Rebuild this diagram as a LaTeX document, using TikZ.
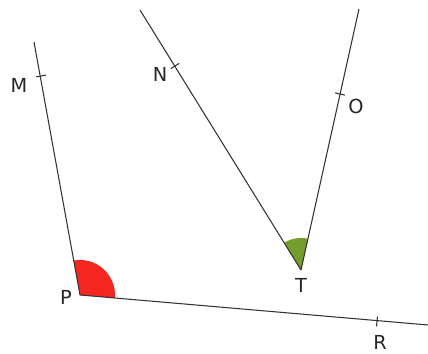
\documentclass[tikz,border=0pt]{standalone}
\usepackage{fontspec}
\setmainfont{DejaVu Sans}
\usetikzlibrary{calc}
\definecolor{anglered}{RGB}{245,38,32}
\definecolor{anglegreen}{RGB}{116,158,44}

\begin{document}
\begin{tikzpicture}[
    ray/.style={draw=black!80, line width=0.6pt},
    tick/.style={draw=black!80, line width=0.6pt},
    pointlabel/.style={font=\fontsize{11}{13}\selectfont, text=black!85, inner sep=0pt},
    redangle/.style={fill=anglered},
    greenangle/.style={fill=anglegreen}
]
\useasboundingbox (0,0) rectangle (8.56,7.08);

% Points
\coordinate (P) at (1.60,1.18);
\coordinate (T) at (6.02,1.68);
\coordinate (Mend) at (0.68,6.24);
\coordinate (Nend) at (2.80,6.88);
\coordinate (Oend) at (7.18,6.90);
\coordinate (Rend) at (8.56,0.58);
\coordinate (M) at (0.82,5.56);
\coordinate (N) at (3.50,5.76);
\coordinate (O) at (6.80,5.20);
\coordinate (R) at (7.54,0.65);

% Angles
\fill[redangle] (P) -- ++(-5:0.7) arc[start angle=-5, end angle=100.3, radius=0.7] -- cycle;
\fill[greenangle] (T) -- ++(77.5:0.64) arc[start angle=77.5, end angle=121.8, radius=0.64] -- cycle;

% Rays
\draw[ray] (P) -- (Mend);
\draw[ray] (P) -- (Rend);
\draw[ray] (T) -- (Nend);
\draw[ray] (T) -- (Oend);

% Ticks
\draw[tick] ($(M)!0.1cm!90:(P)$) -- ($(M)!0.1cm!-90:(P)$);
\draw[tick] ($(N)!0.1cm!90:(T)$) -- ($(N)!0.1cm!-90:(T)$);
\draw[tick] ($(O)!0.1cm!90:(T)$) -- ($(O)!0.1cm!-90:(T)$);
\draw[tick] ($(R)!0.1cm!90:(P)$) -- ($(R)!0.1cm!-90:(P)$);

% Labels
\node[pointlabel] (labelM) at (0.38,5.38) {M};
\node[pointlabel] (labelN) at (3.20,5.60) {N};
\node[pointlabel] (labelO) at (7.12,4.96) {O};
\node[pointlabel] (labelP) at (1.32,1.14) {P};
\node[pointlabel] (labelT) at (6.02,1.38) {T};
\node[pointlabel] (labelR) at (7.60,0.24) {R};

\end{tikzpicture}
\end{document}
